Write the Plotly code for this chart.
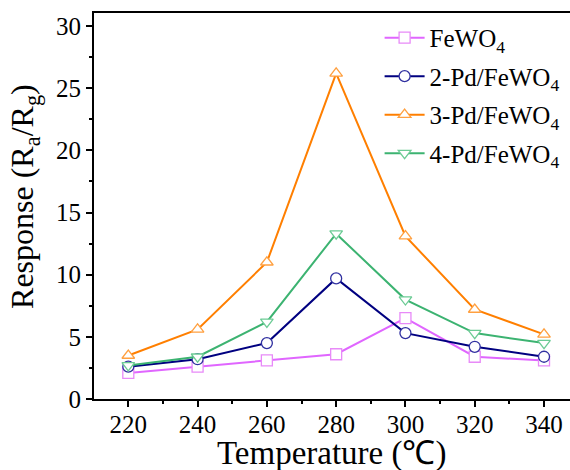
import plotly.graph_objects as go

# Operating temperature (°C)
temperature = [220, 240, 260, 280, 300, 320, 340]

# Sensor response Ra/Rg for each material
fewo4 = [2.1, 2.6, 3.1, 3.6, 6.5, 3.4, 3.1]
pd2_fewo4 = [2.6, 3.2, 4.5, 9.7, 5.3, 4.2, 3.4]
pd3_fewo4 = [3.5, 5.6, 11.0, 26.2, 13.1, 7.2, 5.2]
pd4_fewo4 = [2.7, 3.4, 6.2, 13.3, 8.0, 5.3, 4.5]

series_names = ["FeWO<sub>4</sub>", "2-Pd/FeWO<sub>4</sub>",
                "3-Pd/FeWO<sub>4</sub>", "4-Pd/FeWO<sub>4</sub>"]
series_values = [fewo4, pd2_fewo4, pd3_fewo4, pd4_fewo4]
line_colors = ["#E066FF", "#000080", "#FF7F00", "#3CB371"]
marker_colors = ["#E88AF8", "#3030A0", "#FFA040", "#6CCB95"]
symbols = ["square", "circle", "triangle-up", "triangle-down"]

FONT = "Liberation Serif, Times New Roman, serif"

fig = go.Figure()
for name, vals, lc, mc, sym in zip(series_names, series_values,
                                    line_colors, marker_colors, symbols):
    fig.add_trace(go.Scatter(
        x=temperature, y=vals, name=name, legendgroup=name, mode="lines+markers",
        line=dict(color=lc, width=2),
        marker=dict(symbol=sym, size=11, color="white", line=dict(width=1.3, color=mc)),
    ))

fig.update_layout(
    width=570, height=470,
    margin=dict(l=94, r=0, t=13, b=71),
    paper_bgcolor="white", plot_bgcolor="white",
    font=dict(family=FONT, size=25, color="black"),
    legend=dict(x=0.6, y=0.995, xanchor="left", yanchor="top",
                bgcolor="rgba(0,0,0,0)", font=dict(size=25),
                itemwidth=40, tracegroupgap=3),
    showlegend=True,
)
fig.update_xaxes(
    range=[210.1, 347.5], tickvals=temperature, showgrid=False, zeroline=False,
    showline=True, linewidth=2, linecolor="black", mirror=True,
    ticks="outside", ticklen=6, tickwidth=1.5, tickcolor="black",
    minor=dict(dtick=10, tick0=210, ticks="outside", ticklen=3, tickwidth=1.5, tickcolor="black"),
    tickfont=dict(size=25), ticklabelstandoff=-4,
)
fig.update_yaxes(
    range=[0, 31.05], tickvals=[0, 5, 10, 15, 20, 25, 30], showgrid=False, zeroline=False,
    showline=True, linewidth=2, linecolor="black", mirror=False,
    ticks="outside", ticklen=6, tickwidth=1.5, tickcolor="black",
    minor=dict(dtick=2.5, tick0=0, ticks="outside", ticklen=3, tickwidth=1.5, tickcolor="black"),
    tickfont=dict(size=25),
)

# Axis titles placed as paper-anchored annotations
fig.add_annotation(
    text="Temperature (℃)", xref="paper", yref="paper",
    x=0.5, y=-0.14, xanchor="center", yanchor="middle",
    showarrow=False, font=dict(size=33),
)
fig.add_annotation(
    text="Response (R<sub>a</sub>/R<sub>g</sub>)", xref="paper", yref="paper",
    x=-0.145, y=0.526, xanchor="center", yanchor="middle", textangle=-90,
    showarrow=False, font=dict(size=32),
)

fig.write_html("out.html")
